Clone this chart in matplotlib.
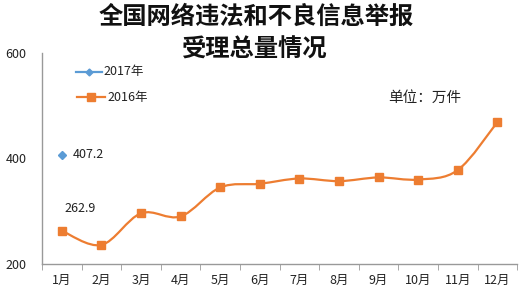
import matplotlib
matplotlib.use("Agg")
import matplotlib.pyplot as plt
import numpy as np
from matplotlib.path import Path
from matplotlib.patches import PathPatch

plt.rcParams['font.family'] = ['Noto Sans CJK SC', 'DejaVu Sans']

months = ["1月", "2月", "3月", "4月", "5月", "6月", "7月", "8月", "9月", "10月", "11月", "12月"]
values_2016 = [262.9, 236, 296, 290, 345, 352, 362, 357, 364, 360, 378, 469]
values_2017 = [407.2]
yticks = [200, 400, 600]

c16 = "#ED7D31"
c17 = "#5B9BD5"

fig = plt.figure(figsize=(5.31, 3.03), dpi=100)
ax = fig.add_axes([0.079, 0.129, 0.895, 0.696])

x16 = np.arange(len(values_2016))
y16 = np.array(values_2016, dtype=float)

# smoothed line (Catmull-Rom as cubic Bezier)
pts = np.column_stack([x16, y16])
verts = [tuple(pts[0])]
codes = [Path.MOVETO]
n = len(pts)
for i in range(n - 1):
    p0 = pts[max(i - 1, 0)]
    p1 = pts[i]
    p2 = pts[i + 1]
    p3 = pts[min(i + 2, n - 1)]
    c1 = p1 + (p2 - p0) / 6.0
    c2 = p2 - (p3 - p1) / 6.0
    verts += [tuple(c1), tuple(c2), tuple(p2)]
    codes += [Path.CURVE4] * 3
ax.add_patch(PathPatch(Path(verts, codes), facecolor="none", edgecolor=c16, lw=1.6, zorder=2))
ax.plot(x16, y16, linestyle="none", marker="s", markersize=6, color=c16, zorder=3)

x17 = np.arange(len(values_2017))
ax.plot(x17, values_2017, linestyle="none", marker="D", markersize=4, color=c17, zorder=3)

ax.text(x17[0] + 0.28, values_2017[0], f"{values_2017[0]:.1f}", fontsize=9, va="center", ha="left", color="#222222")
ax.text(x16[0] + 0.06, y16[0] + 42, f"{values_2016[0]:.1f}", fontsize=9, va="center", ha="left", color="#222222")

ax.set_xlim(-0.5, 11.5)
ax.set_ylim(200, 600)
ax.set_yticks(yticks)
ax.set_yticklabels([str(v) for v in yticks], fontsize=9, color="#222222")
ax.tick_params(axis="y", length=0, pad=11)
ax.set_xticks(x16)
ax.set_xticklabels(months, fontsize=9, color="#222222")
ax.set_xticks(np.arange(-0.5, 12, 1), minor=True)
ax.tick_params(axis="x", which="major", length=0, pad=7)
ax.tick_params(axis="x", which="minor", length=4, color="#999999", direction="out")

for s in ["top", "right"]:
    ax.spines[s].set_visible(False)
for s in ["left", "bottom"]:
    ax.spines[s].set_color("#999999")
    ax.spines[s].set_linewidth(1)

# legend (manual, in figure pixel space)
def fx(px):
    return px / 531
def fy(py):
    return 1 - py / 303

fig.lines.append(plt.Line2D([fx(76), fx(102)], [fy(72), fy(72)], color=c17, lw=1.6, transform=fig.transFigure))
fig.lines.append(plt.Line2D([fx(89)], [fy(72)], color=c17, marker="D", markersize=3.5, transform=fig.transFigure))
fig.text(fx(103), fy(72), "2017年", fontsize=9, va="center", ha="left", color="#222222")
fig.lines.append(plt.Line2D([fx(77), fx(105)], [fy(97), fy(97)], color=c16, lw=1.6, transform=fig.transFigure))
fig.lines.append(plt.Line2D([fx(91)], [fy(97)], color=c16, marker="s", markersize=6, transform=fig.transFigure))
fig.text(fx(107), fy(97), "2016年", fontsize=9, va="center", ha="left", color="#222222")

fig.text(fx(388), fy(98), "单位：万件", fontsize=10.5, va="center", ha="left", color="#222222")

fig.text(fx(256), fy(17), "全国网络违法和不良信息举报", fontsize=17.5, fontweight="bold", ha="center", va="center", color="#111111")
fig.text(fx(254), fy(50), "受理总量情况", fontsize=17.5, fontweight="bold", ha="center", va="center", color="#111111")

fig.savefig("out.png", dpi=100)
